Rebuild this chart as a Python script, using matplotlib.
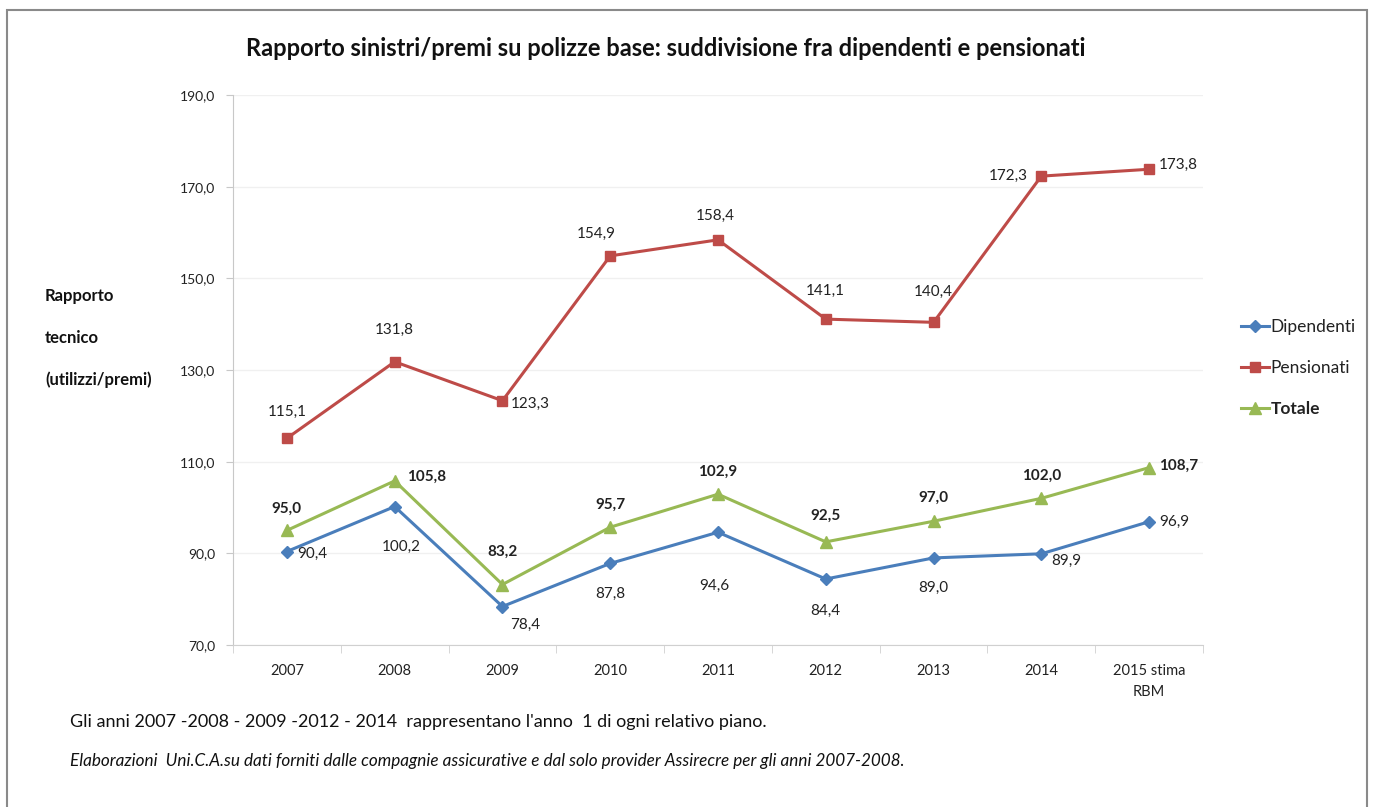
import matplotlib.pyplot as plt
from matplotlib.patches import Rectangle

plt.rcParams["font.family"] = ["Lato", "DejaVu Sans"]

# data
years = ["2007", "2008", "2009", "2010", "2011", "2012", "2013", "2014", "2015 stima\nRBM"]
dipendenti = [90.4, 100.2, 78.4, 87.8, 94.6, 84.4, 89.0, 89.9, 96.9]
pensionati = [115.1, 131.8, 123.3, 154.9, 158.4, 141.1, 140.4, 172.3, 173.8]
totale = [95.0, 105.8, 83.2, 95.7, 102.9, 92.5, 97.0, 102.0, 108.7]

# label offsets in pixels (dx, dy, ha)
pens_off = [(0, 26, "center"), (0, 32, "center"), (8, -3, "left"), (-14, 22, "center"),
            (-3, 24, "center"), (0, 28, "center"), (0, 30, "center"), (-14, 0, "right"),
            (10, 4, "left")]
dip_off = [(10, -2, "left"), (7, -40, "center"), (8, -18, "left"), (0, -30, "center"),
           (-4, -54, "center"), (0, -32, "center"), (0, -30, "center"), (10, -7, "left"),
           (10, 0, "left")]
tot_off = [(0, 22, "center"), (12, 4, "left"), (0, 33, "center"), (0, 22, "center"),
           (0, 22, "center"), (0, 26, "center"), (0, 23, "center"), (0, 23, "center"),
           (10, 2, "left")]

blue = "#4a7ebb"
red = "#be4b48"
green = "#98b954"

fig = plt.figure(figsize=(13.75, 8.07), dpi=100)
ax = fig.add_axes([233 / 1375, 1 - 645 / 807, (1203 - 233) / 1375, 550 / 807])

x = list(range(len(years)))
ax.plot(x, dipendenti, color=blue, lw=2.2, marker="D", ms=6, label="Dipendenti", zorder=3)
ax.plot(x, pensionati, color=red, lw=2.2, marker="s", ms=7, label="Pensionati", zorder=3)
ax.plot(x, totale, color=green, lw=2.2, marker="^", ms=8, label="Totale", zorder=3)


def fmt(v):
    return f"{v:.1f}".replace(".", ",")


for vals, offs, bold in [(pensionati, pens_off, False), (dipendenti, dip_off, False),
                         (totale, tot_off, True)]:
    for i, (v, (dx, dy, ha)) in enumerate(zip(vals, offs)):
        ax.annotate(fmt(v), (i, v), xytext=(dx, dy), textcoords="offset pixels",
                    ha=ha, va="center", fontsize=11, color="#222222",
                    fontweight="bold" if bold else "normal")

ax.set_xlim(-0.5, len(years) - 0.5)
ax.set_ylim(70, 190)
ax.set_yticks(range(70, 191, 20))
ax.set_yticklabels([fmt(t) for t in range(70, 191, 20)], fontsize=10, color="#222222")
ax.set_xticks(x)
ax.set_xticklabels(years, fontsize=10.5, color="#222222", linespacing=1.6)
ax.set_xticks([i + 0.5 for i in range(-1, len(years))], minor=True)
ax.tick_params(axis="x", which="major", length=0, pad=14)
ax.tick_params(axis="x", which="minor", length=6, color="#d0d0d0", direction="out")
ax.tick_params(axis="y", length=5, color="#c8c8c8", pad=8)
ax.grid(axis="y", color="#f0f0f0", lw=1)
ax.set_axisbelow(True)
for s in ["top", "right"]:
    ax.spines[s].set_visible(False)
ax.spines["left"].set_color("#c8c8c8")
ax.spines["bottom"].set_color("#d0d0d0")

leg = fig.legend(loc="upper left", bbox_to_anchor=(1234 / 1375, 1 - 312 / 807), frameon=False,
                 fontsize=12.5, handlelength=1.6, handletextpad=0.1, labelspacing=1.45,
                 borderaxespad=0)
leg.get_texts()[2].set_fontweight("bold")
for t in leg.get_texts():
    t.set_color("#222222")

fig.text(666 / 1375, 1 - 48 / 807,
         "Rapporto sinistri/premi su polizze base: suddivisione fra dipendenti e pensionati",
         ha="center", va="center", fontsize=17, fontweight="bold", color="#111111")

for label, y in [("Rapporto", 296), ("tecnico", 338), ("(utilizzi/premi)", 380)]:
    fig.text(45 / 1375, 1 - y / 807, label, ha="left", va="center", fontsize=12,
             fontweight="bold", color="#111111")

fig.text(70 / 1375, 1 - 722 / 807,
         "Gli anni 2007 -2008 - 2009 -2012 - 2014  rappresentano l'anno  1 di ogni relativo piano.",
         ha="left", va="center", fontsize=13, color="#111111")
fig.text(70 / 1375, 1 - 761 / 807,
         "Elaborazioni  Uni.C.A.su dati forniti dalle compagnie assicurative e dal solo provider "
         "Assirecre per gli anni 2007-2008.",
         ha="left", va="center", fontsize=12.3, style="italic", color="#111111")

# outer frame
fig.patches.append(Rectangle((7 / 1375, -0.05), (1367 - 7) / 1375, 1.05 - 10 / 807,
                             transform=fig.transFigure, fill=False, ec="#8a8a8a", lw=1.5))

fig.savefig("out.png", dpi=100)
